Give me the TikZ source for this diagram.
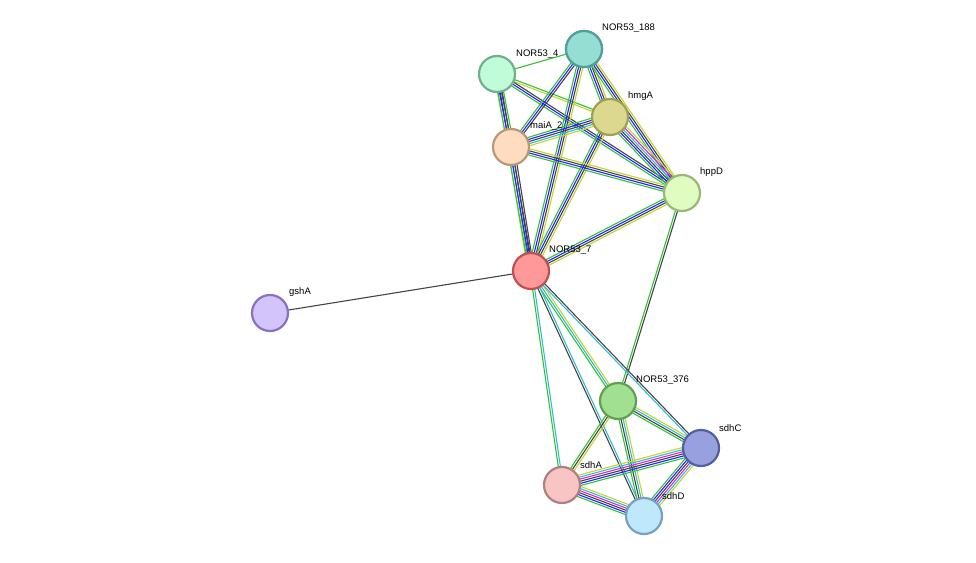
\documentclass[tikz,border=0pt]{standalone}
\usepackage{fontspec}
\setmainfont{Liberation Sans}
\usetikzlibrary{calc}
\definecolor{eg}{HTML}{33C233}
\definecolor{eb}{HTML}{2222FF}
\definecolor{ek}{HTML}{444444}
\definecolor{ey}{HTML}{C2D433}
\definecolor{ec}{HTML}{33BBD6}
\definecolor{em}{HTML}{E022E0}
\newcommand\sedge[3]{%
  \foreach \c [count=\n] in {#3}{\xdef\ncount{\n}}%
  \foreach \c [count=\i] in {#3}{%
    \pgfmathsetmacro\o{(\i-(\ncount+1)/2)*2.1}%
    \draw[\c,line width=1.1pt] ($(#1.center)!\o pt!90:(#2.center)$) -- ($(#2.center)!\o pt!-90:(#1.center)$);}}
\tikzset{prot/.style={circle,minimum size=36pt,inner sep=0pt,line width=2.2pt},
  lab/.style={anchor=south west,font=\fontsize{9.5}{11}\selectfont,inner sep=0pt}}
\begin{document}
\begin{tikzpicture}[x=1pt,y=-1pt]
\useasboundingbox (0,0) rectangle (976,562);
\coordinate (n7) at (531,271);
\coordinate (gsh) at (270,313);
\coordinate (n4) at (497,74);
\coordinate (n188) at (584,49);
\coordinate (hmg) at (610,117);
\coordinate (mai) at (511,147);
\coordinate (hpp) at (682,193);
\coordinate (n376) at (618,401);
\coordinate (sdC) at (701,448);
\coordinate (sdA) at (562,485);
\coordinate (sdD) at (644,516);
% labels
\node[lab] (l4) at (516,59) {NOR53\_4};
\sedge{n7}{gsh}{ek}
\sedge{n4}{n188}{eg}
\sedge{n4}{mai}{ey,eb,ek,eg}
\sedge{n4}{hmg}{ey,eg}
\sedge{n4}{hpp}{eg,eb,ek}
\sedge{n188}{hmg}{eg,eb,ek,ey}
\sedge{n188}{mai}{eg,eb,ek}
\sedge{n188}{hpp}{eg,eb,ek,ey}
\sedge{n188}{n7}{eg,eb,ek,ey}
\sedge{hmg}{mai}{eg,eb,ek,ec,ey}
\sedge{hmg}{hpp}{eg,eb,ek,ec,em,ey}
\sedge{hmg}{n7}{eg,eb,ek,ey}
\sedge{mai}{hpp}{eg,eb,ek,ey}
\sedge{mai}{n7}{ey,eg,eb,ek}
\sedge{n4}{n7}{eg,eb,ek}
\sedge{hpp}{n7}{eg,eb,ek,ey}
\sedge{hpp}{n376}{eg,ek}
\sedge{n7}{n376}{eg,ec,ey}
\sedge{n7}{sdC}{ec,ek}
\sedge{n7}{sdA}{eg,ec}
\sedge{n7}{sdD}{ek,ec}
\sedge{n376}{sdA}{eg,ek,ey}
\sedge{n376}{sdC}{eg,ek,ec,ey}
\sedge{n376}{sdD}{eg,ek,ec,ey}
\sedge{sdA}{sdC}{eg,eb,ek,em,ec,ey}
\sedge{sdA}{sdD}{eg,eb,ek,em,ec,ey}
\sedge{sdC}{sdD}{eg,eb,ek,em,ec,ey}
% nodes
\node[prot,fill={rgb,255:red,255;green,153;blue,153},draw={rgb,255:red,192;green,80;blue,80}] (N7) at (n7) {};
\node[prot,fill={rgb,255:red,212;green,196;blue,252},draw={rgb,255:red,138;green,112;blue,192}] (G) at (gsh) {};
\node[prot,fill={rgb,255:red,192;green,252;blue,216},draw={rgb,255:red,112;green,176;blue,144}] (N4) at (n4) {};
\node[prot,fill={rgb,255:red,148;green,222;blue,212},draw={rgb,255:red,80;green,160;blue,152}] (N188) at (n188) {};
\node[prot,fill={rgb,255:red,220;green,216;blue,144},draw={rgb,255:red,160;green,160;blue,80}] (H) at (hmg) {};
\node[prot,fill={rgb,255:red,254;green,220;blue,192},draw={rgb,255:red,184;green,152;blue,120}] (M) at (mai) {};
\node[prot,fill={rgb,255:red,224;green,252;blue,192},draw={rgb,255:red,152;green,184;blue,120}] (HP) at (hpp) {};
\node[prot,fill={rgb,255:red,160;green,224;blue,144},draw={rgb,255:red,96;green,160;blue,80}] (N376) at (n376) {};
\node[prot,fill={rgb,255:red,152;green,160;blue,224},draw={rgb,255:red,80;green,96;blue,160}] (SC) at (sdC) {};
\node[prot,fill={rgb,255:red,248;green,196;blue,196},draw={rgb,255:red,176;green,128;blue,128}] (SA) at (sdA) {};
\node[prot,fill={rgb,255:red,192;green,232;blue,252},draw={rgb,255:red,120;green,160;blue,192}] (SD) at (sdD) {};
\node[lab] (l188) at (602,33) {NOR53\_188};
\node[lab] (lh) at (628,101) {hmgA};
\node[lab] (lm) at (530,131) {maiA\_2};
\node[lab] (lhp) at (700,177) {hppD};
\node[lab] (l7) at (549,255) {NOR53\_7};
\node[lab] (lg) at (289,297) {gshA};
\node[lab] (l376) at (636,385) {NOR53\_376};
\node[lab] (lc) at (719,432) {sdhC};
\node[lab] (la) at (580,469) {sdhA};
\node[lab] (ld) at (662,500) {sdhD};
\node[prot,fill={rgb,255:red,148;green,222;blue,212},draw={rgb,255:red,80;green,160;blue,152}] at (n188) {};
\end{tikzpicture}
\end{document}
